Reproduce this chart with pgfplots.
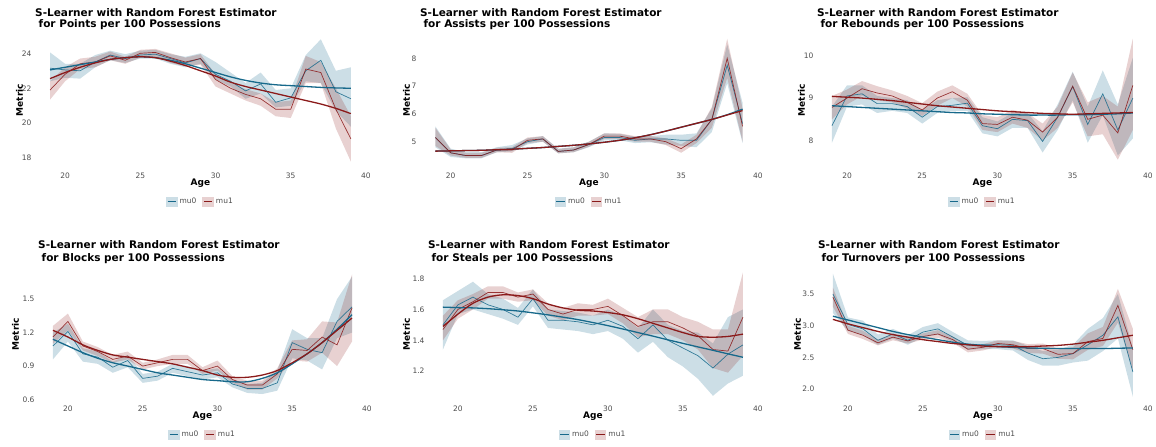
\documentclass[border=0pt]{standalone}
\usepackage{fontspec}
\setmainfont{DejaVu Sans}
\usepackage{pgfplots}
\usepackage{pgfplotstable}
\pgfplotsset{compat=1.18}
\usepgfplotslibrary{fillbetween}

\definecolor{lineblue}{RGB}{23,105,139}
\definecolor{linered}{RGB}{139,26,26}
\definecolor{tickgrey}{RGB}{77,77,77}

\newcommand{\titlefont}{\fontsize{10.5}{12}\selectfont\bfseries}
\newcommand{\labfont}{\fontsize{9}{10}\selectfont\bfseries}
\newcommand{\tickfont}{\fontsize{7.5}{9}\selectfont}

% age m0 l0 h0 m1 l1 h1 s0 s1
\pgfplotstableread{
age m0 l0 h0 m1 l1 h1 s0 s1
19 23.15 22.40 24.05 21.90 21.35 22.40 23.05 22.55
20 23.05 22.60 23.40 22.80 22.40 23.20 23.20 22.90
21 23.00 22.55 23.40 23.40 23.10 23.70 23.35 23.20
22 23.50 23.20 23.90 23.50 23.20 23.80 23.50 23.45
23 23.90 23.60 24.15 23.85 23.60 24.10 23.65 23.65
24 23.70 23.45 23.95 23.60 23.40 23.80 23.75 23.75
25 23.90 23.70 24.15 24.00 23.75 24.20 23.80 23.80
26 23.95 23.70 24.20 24.05 23.80 24.25 23.75 23.75
27 23.70 23.40 23.95 23.75 23.45 24.00 23.60 23.55
28 23.45 23.20 23.80 23.50 23.25 23.75 23.40 23.30
29 23.70 23.40 24.00 23.70 23.35 23.95 23.15 23.00
30 22.80 22.50 23.50 22.50 22.10 22.80 22.90 22.70
31 22.40 22.10 22.90 22.00 21.70 22.30 22.65 22.35
32 21.85 21.40 22.30 21.65 21.30 21.95 22.45 22.10
33 22.25 21.70 22.90 21.40 21.00 21.70 22.30 21.90
34 21.20 20.90 21.90 20.80 20.40 21.20 22.20 21.70
35 21.45 21.00 22.00 20.80 20.30 21.30 22.15 21.50
36 23.00 22.40 23.90 23.10 22.30 23.85 22.10 21.30
37 23.60 22.30 24.80 22.90 22.30 23.50 22.05 21.10
38 21.80 20.70 23.00 20.80 19.70 22.00 22.02 20.85
39 21.40 19.80 23.20 19.10 17.80 20.40 22.00 20.55
}\tpts

\pgfplotstableread{
age m0 l0 h0 m1 l1 h1 s0 s1
19 5.15 4.80 5.55 5.15 4.85 5.50 4.66 4.66
20 4.60 4.45 4.75 4.60 4.50 4.72 4.67 4.67
21 4.50 4.40 4.62 4.50 4.42 4.60 4.68 4.68
22 4.50 4.40 4.62 4.50 4.42 4.60 4.69 4.69
23 4.70 4.62 4.80 4.70 4.62 4.78 4.71 4.71
24 4.75 4.65 4.88 4.70 4.60 4.80 4.73 4.73
25 5.00 4.90 5.12 5.05 4.95 5.15 4.76 4.76
26 5.10 5.00 5.20 5.10 5.00 5.20 4.79 4.79
27 4.65 4.58 4.75 4.65 4.58 4.74 4.83 4.83
28 4.70 4.62 4.80 4.70 4.62 4.80 4.87 4.87
29 4.90 4.80 5.00 4.90 4.82 5.00 4.92 4.92
30 5.15 5.05 5.30 5.20 5.10 5.30 4.98 4.98
31 5.15 5.05 5.28 5.20 5.10 5.30 5.05 5.05
32 5.05 4.95 5.18 5.10 5.00 5.20 5.14 5.14
33 5.10 4.98 5.20 5.10 5.00 5.20 5.25 5.25
34 5.10 4.90 5.25 5.00 4.88 5.12 5.38 5.38
35 5.05 4.85 5.25 4.75 4.60 4.90 5.52 5.52
36 5.05 4.80 5.30 5.10 4.95 5.25 5.66 5.66
37 5.80 5.35 6.20 5.80 5.50 6.25 5.80 5.80
38 7.75 7.10 8.50 8.00 7.30 8.70 5.97 5.96
39 5.65 4.95 6.40 5.55 5.00 6.20 6.17 6.12
}\tast

\pgfplotstableread{
age m0 l0 h0 m1 l1 h1 s0 s1
19 8.35 7.95 8.80 8.78 8.50 9.05 8.82 9.04
20 9.05 8.80 9.30 9.00 8.85 9.20 8.80 9.02
21 9.10 8.85 9.30 9.22 9.05 9.40 8.78 9.00
22 8.87 8.65 9.05 9.12 8.95 9.28 8.76 8.97
23 8.87 8.70 9.00 9.05 8.90 9.18 8.74 8.94
24 8.80 8.65 8.95 8.90 8.75 9.05 8.72 8.90
25 8.55 8.40 8.72 8.72 8.58 8.88 8.70 8.86
26 8.80 8.65 8.95 9.00 8.82 9.15 8.68 8.82
27 8.83 8.70 9.00 9.15 9.00 9.30 8.66 8.79
28 8.88 8.70 9.02 8.95 8.80 9.10 8.65 8.76
29 8.35 8.17 8.55 8.40 8.25 8.60 8.63 8.73
30 8.28 8.10 8.45 8.38 8.20 8.55 8.62 8.70
31 8.50 8.30 8.65 8.55 8.40 8.72 8.61 8.68
32 8.47 8.30 8.65 8.48 8.30 8.65 8.60 8.66
33 7.98 7.72 8.22 8.20 8.00 8.40 8.60 8.64
34 8.55 8.25 8.85 8.55 8.30 8.80 8.60 8.63
35 9.27 8.95 9.62 9.28 8.90 9.60 8.61 8.62
36 8.38 7.95 8.80 8.50 8.10 8.90 8.61 8.63
37 9.10 8.60 9.65 8.60 8.15 9.05 8.62 8.64
38 8.25 7.65 8.85 8.18 7.55 8.80 8.63 8.65
39 9.00 8.05 9.95 9.30 8.25 10.40 8.65 8.66
}\treb

\pgfplotstableread{
age m0 l0 h0 m1 l1 h1 s0 s1
19 1.08 0.96 1.20 1.16 1.10 1.26 1.14 1.22
20 1.21 1.12 1.28 1.30 1.22 1.37 1.08 1.16
21 1.01 0.94 1.06 1.08 1.04 1.12 1.02 1.09
22 0.98 0.92 1.03 1.03 0.99 1.07 0.97 1.04
23 0.89 0.84 0.94 0.96 0.93 1.00 0.93 1.00
24 0.95 0.89 1.00 0.99 0.96 1.03 0.90 0.98
25 0.79 0.75 0.83 0.90 0.87 0.93 0.87 0.96
26 0.81 0.77 0.85 0.93 0.90 0.96 0.84 0.94
27 0.88 0.84 0.92 0.96 0.92 1.00 0.82 0.92
28 0.85 0.81 0.90 0.96 0.92 1.00 0.80 0.89
29 0.82 0.78 0.86 0.86 0.83 0.89 0.78 0.86
30 0.84 0.80 0.88 0.90 0.86 0.95 0.77 0.82
31 0.74 0.71 0.78 0.78 0.75 0.81 0.76 0.80
32 0.70 0.66 0.74 0.73 0.69 0.77 0.76 0.80
33 0.70 0.65 0.75 0.73 0.69 0.77 0.79 0.82
34 0.75 0.68 0.86 0.83 0.79 0.88 0.84 0.86
35 1.11 0.97 1.23 1.05 0.95 1.13 0.92 0.93
36 1.05 0.95 1.15 1.04 0.94 1.14 1.01 1.01
37 1.02 0.87 1.15 1.16 1.02 1.30 1.11 1.11
38 1.30 1.15 1.50 1.09 0.90 1.29 1.23 1.22
39 1.43 1.20 1.70 1.42 1.12 1.72 1.36 1.33
}\tblk

\pgfplotstableread{
age m0 l0 h0 m1 l1 h1 s0 s1
19 1.50 1.34 1.66 1.47 1.40 1.56 1.615 1.49
20 1.63 1.57 1.72 1.60 1.54 1.66 1.612 1.57
21 1.68 1.60 1.78 1.65 1.60 1.70 1.610 1.64
22 1.63 1.57 1.70 1.71 1.67 1.75 1.605 1.68
23 1.60 1.54 1.67 1.71 1.67 1.75 1.598 1.695
24 1.55 1.50 1.61 1.68 1.65 1.71 1.590 1.69
25 1.67 1.62 1.73 1.70 1.66 1.73 1.578 1.67
26 1.53 1.48 1.60 1.60 1.56 1.64 1.565 1.635
27 1.53 1.47 1.59 1.57 1.53 1.61 1.550 1.61
28 1.52 1.46 1.58 1.60 1.56 1.64 1.534 1.595
29 1.50 1.44 1.56 1.60 1.56 1.63 1.515 1.59
30 1.53 1.46 1.60 1.62 1.57 1.67 1.495 1.58
31 1.49 1.41 1.56 1.56 1.51 1.61 1.473 1.565
32 1.41 1.32 1.48 1.49 1.42 1.55 1.450 1.54
33 1.50 1.39 1.60 1.52 1.44 1.60 1.427 1.51
34 1.40 1.29 1.50 1.52 1.44 1.60 1.403 1.48
35 1.35 1.23 1.46 1.48 1.40 1.55 1.380 1.45
36 1.30 1.15 1.45 1.43 1.34 1.52 1.357 1.425
37 1.22 1.04 1.38 1.34 1.22 1.47 1.335 1.42
38 1.31 1.12 1.55 1.33 1.19 1.47 1.312 1.425
39 1.37 1.17 1.60 1.55 1.30 1.84 1.290 1.44
}\tstl

\pgfplotstableread{
age m0 l0 h0 m1 l1 h1 s0 s1
19 3.50 3.20 3.82 3.45 3.30 3.60 3.15 3.10
20 3.02 2.92 3.13 2.93 2.87 3.00 3.09 3.03
21 2.95 2.85 3.08 2.85 2.79 2.92 3.03 2.97
22 2.77 2.70 2.86 2.73 2.69 2.78 2.97 2.91
23 2.87 2.80 2.95 2.82 2.77 2.87 2.91 2.86
24 2.77 2.70 2.85 2.76 2.72 2.82 2.86 2.82
25 2.90 2.82 2.98 2.83 2.78 2.88 2.82 2.78
26 2.95 2.86 3.04 2.87 2.81 2.93 2.78 2.75
27 2.82 2.74 2.90 2.78 2.73 2.83 2.74 2.72
28 2.69 2.62 2.77 2.63 2.58 2.68 2.71 2.70
29 2.70 2.63 2.76 2.66 2.61 2.71 2.69 2.68
30 2.70 2.63 2.77 2.72 2.67 2.77 2.67 2.67
31 2.69 2.61 2.77 2.70 2.64 2.76 2.66 2.67
32 2.57 2.46 2.68 2.64 2.57 2.71 2.65 2.67
33 2.48 2.37 2.60 2.64 2.56 2.72 2.645 2.68
34 2.50 2.37 2.62 2.55 2.48 2.64 2.64 2.69
35 2.56 2.42 2.70 2.56 2.47 2.66 2.64 2.71
36 2.70 2.45 2.95 2.75 2.62 2.88 2.64 2.74
37 2.85 2.60 3.12 2.80 2.68 2.98 2.64 2.77
38 3.14 2.80 3.50 3.32 3.05 3.58 2.645 2.81
39 2.27 1.88 2.65 2.62 2.30 2.95 2.65 2.85
}\ttov

\pgfplotsset{
  panel/.style={
    scale only axis,
    axis lines=left,
    axis line style={draw=none},
    tick style={draw=none},
    major tick length=0pt,
    clip mode=individual,
    xmin=18, xmax=40,
    xtick={20,25,30,35,40},
    ticklabel style={font=\tickfont, text=tickgrey},
    xticklabel style={yshift=-2pt},
    /pgf/number format/assume math mode=true,
    legend columns=2,
    legend style={draw=none, fill=none, anchor=center, font=\tickfont, text=tickgrey,
      /tikz/every even column/.append style={column sep=4pt}},
  },
  top/.style={legend style={at={(0.5,-0.259)}}},
  bot/.style={legend style={at={(0.5,-0.265)}}},
}

\newcommand{\drawpanel}[1]{%
  \addplot[name path=L0, draw=none, forget plot] table[x=age,y=l0]{#1};
  \addplot[name path=H0, draw=none, forget plot] table[x=age,y=h0]{#1};
  \addplot[fill=lineblue, fill opacity=0.22, draw=none, forget plot] fill between[of=L0 and H0];
  \addplot[name path=L1, draw=none, forget plot] table[x=age,y=l1]{#1};
  \addplot[name path=H1, draw=none, forget plot] table[x=age,y=h1]{#1};
  \addplot[fill=linered, fill opacity=0.2, draw=none, forget plot] fill between[of=L1 and H1];
  \addplot[lineblue, line width=0.7pt, opacity=0.85, forget plot] table[x=age,y=m0]{#1};
  \addplot[linered, line width=0.7pt, opacity=0.85, forget plot] table[x=age,y=m1]{#1};
  \addplot[lineblue, line width=1.3pt, smooth, forget plot] table[x=age,y=s0]{#1};
  \addplot[linered, line width=1.3pt, smooth, forget plot] table[x=age,y=s1]{#1};
  \addlegendimage{legend image code/.code={%
    \fill[lineblue, fill opacity=0.22, draw=none] (0pt,-5pt) rectangle (11.5pt,5pt);
    \draw[lineblue, line width=1pt] (1.5pt,0pt) -- (10pt,0pt);}}
  \addlegendentry{mu0}
  \addlegendimage{legend image code/.code={%
    \fill[linered, fill opacity=0.2, draw=none] (0pt,-5pt) rectangle (11.5pt,5pt);
    \draw[linered, line width=1pt] (1.5pt,0pt) -- (10pt,0pt);}}
  \addlegendentry{mu1}
}

% #1 second title line, #2 baseline shift line2, #3 baseline shift line1, #4 metric shift
\newcommand{\decor}[4]{%
  \node[anchor=base west, font=\titlefont, inner sep=0pt, yshift=#3] at (rel axis cs:0,1) {S-Learner with Random Forest Estimator};
  \node[anchor=base west, font=\titlefont, inner sep=0pt, yshift=#2] at (rel axis cs:0,1) {\hspace*{3.5pt}#1};
  \node[anchor=base, font=\labfont, inner sep=0pt, yshift=-19pt] at (rel axis cs:0.5,0) {Age};
  \node[anchor=base, font=\labfont, inner sep=0pt, xshift=#4, rotate=90] at (rel axis cs:0,0.5) {Metric};
}

\begin{document}
\begin{tikzpicture}
\path (0,0) rectangle (1156pt,447pt);

% ---- Top row ----
\begin{axis}[panel, top, at={(35pt,280pt)}, width=331pt, height=134pt,
  ymin=17.5, ymax=25.16, ytick={18,20,22,24}]
  \drawpanel{\tpts}
  \decor{for Points per 100 Possessions}{5pt}{16.5pt}{-12pt}
\end{axis}

\begin{axis}[panel, top, at={(420pt,280pt)}, width=338pt, height=134pt,
  ymin=4.09, ymax=8.91, ytick={5,6,7,8}]
  \drawpanel{\tast}
  \decor{for Assists per 100 Possessions}{5pt}{16.5pt}{-10pt}
\end{axis}

\begin{axis}[panel, top, at={(817pt,280pt)}, width=331pt, height=134pt,
  ymin=7.38, ymax=10.53, ytick={8,9,10}]
  \drawpanel{\treb}
  \decor{for Rebounds per 100 Possessions}{5pt}{16.5pt}{-12pt}
\end{axis}

% ---- Bottom row ----
\begin{axis}[panel, bot, at={(38pt,47pt)}, width=329pt, height=132pt,
  ymin=0.597, ymax=1.778, ytick={0.6,0.9,1.2,1.5},
  yticklabel style={/pgf/number format/.cd, fixed, fixed zerofill, precision=1}]
  \drawpanel{\tblk}
  \decor{for Blocks per 100 Possessions}{6.8pt}{19pt}{-19pt}
\end{axis}

\begin{axis}[panel, bot, at={(428pt,47pt)}, width=330pt, height=132pt,
  ymin=1.013, ymax=1.869, ytick={1.2,1.4,1.6,1.8},
  yticklabel style={/pgf/number format/.cd, fixed, fixed zerofill, precision=1}]
  \drawpanel{\tstl}
  \decor{for Steals per 100 Possessions}{6.8pt}{19pt}{-18pt}
\end{axis}

\begin{axis}[panel, bot, at={(818pt,47pt)}, width=330pt, height=132pt,
  ymin=1.83, ymax=3.91, ytick={2.0,2.5,3.0,3.5},
  yticklabel style={/pgf/number format/.cd, fixed, fixed zerofill, precision=1}]
  \drawpanel{\ttov}
  \decor{for Turnovers per 100 Possessions}{6.8pt}{19pt}{-17pt}
\end{axis}
\end{tikzpicture}
\end{document}
